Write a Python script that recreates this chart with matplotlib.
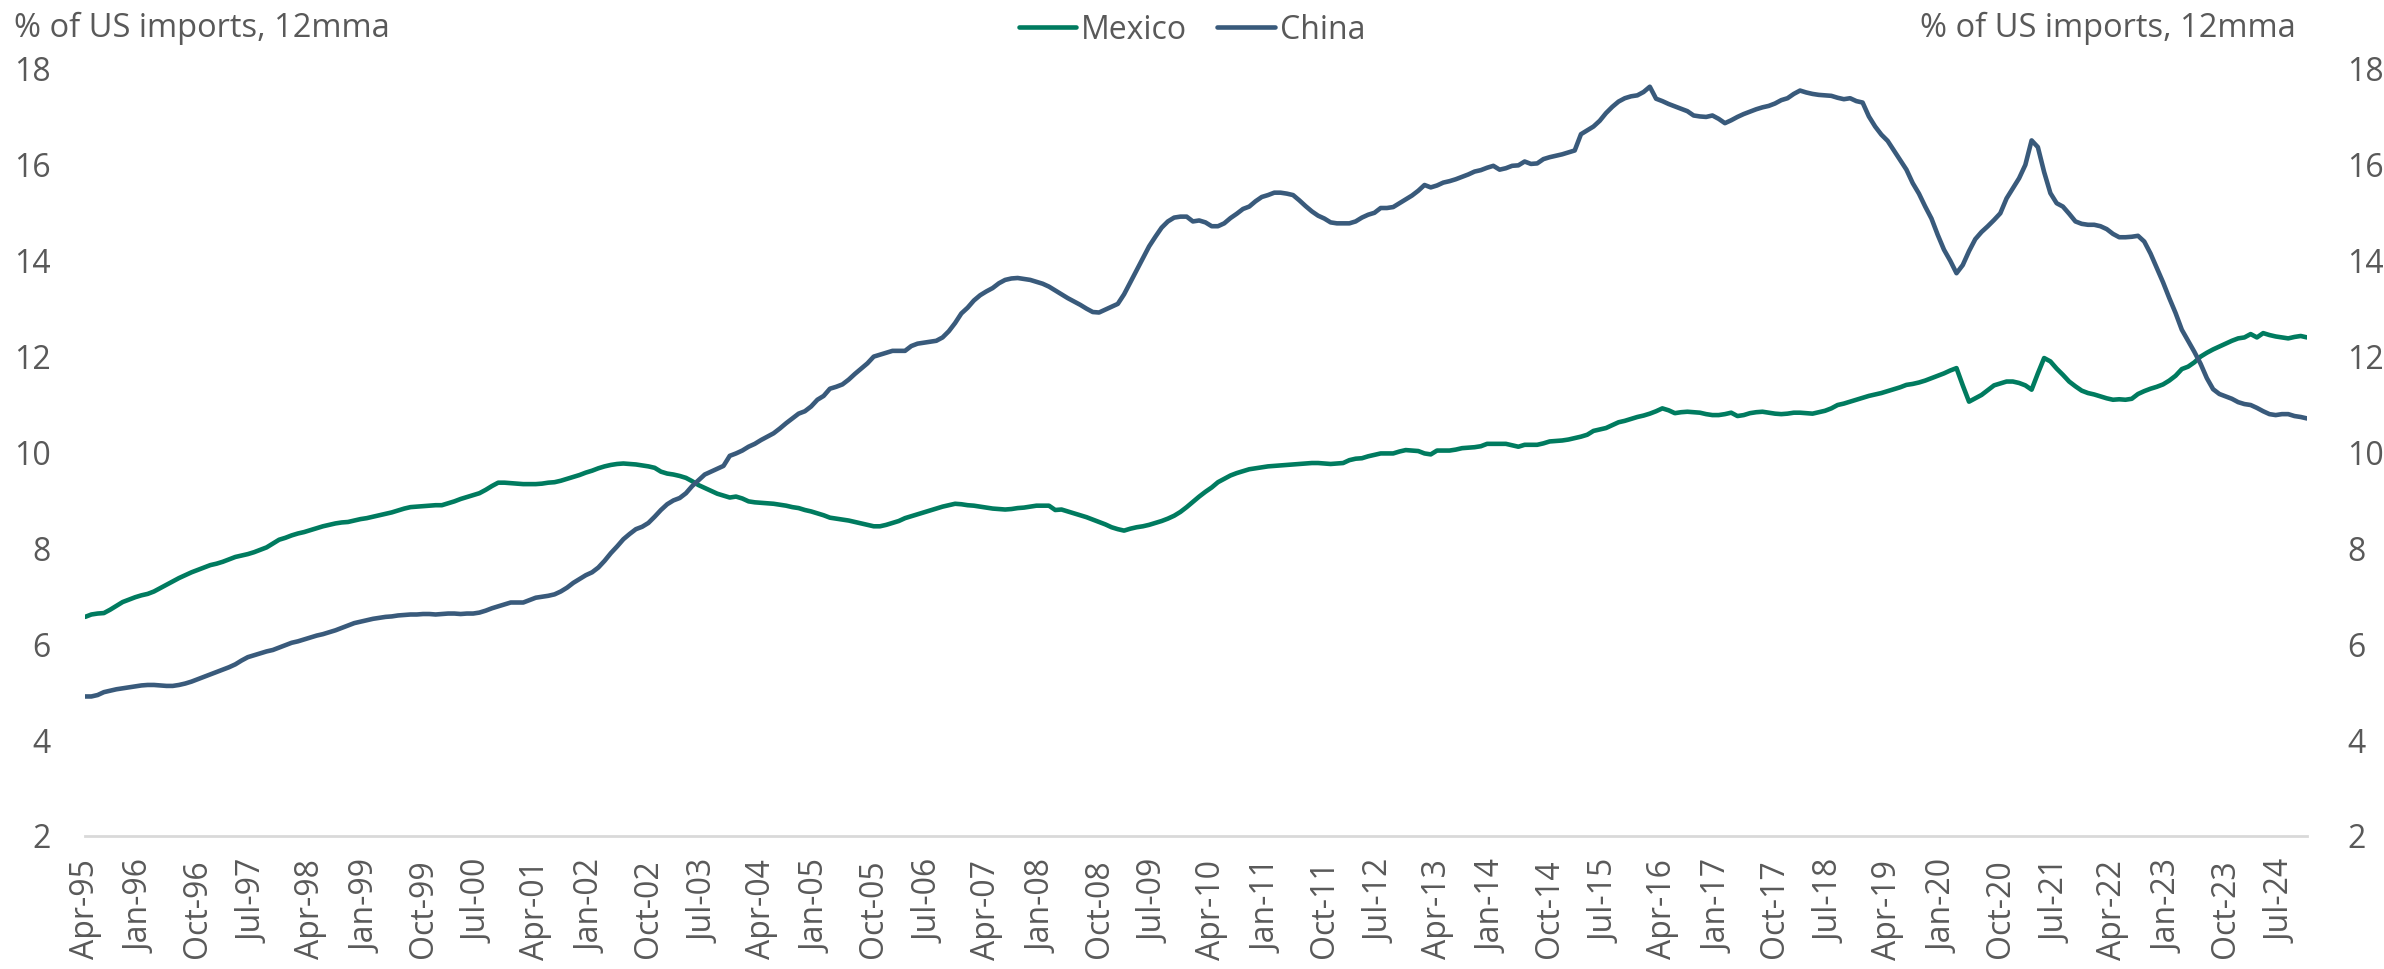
import numpy as np
import pandas as pd
import matplotlib
matplotlib.use("Agg")
import matplotlib.pyplot as plt

OUTPUT_FILE = "out.png"

START_MONTH = "1995-04"
AXIS_TITLE = "% of US imports, 12mma"

# monthly values, Apr-95 .. Nov-24
MEXICO = [
    6.57, 6.62, 6.64, 6.65, 6.72, 6.80, 6.88, 6.93, 6.98,
    7.02, 7.05, 7.10, 7.17, 7.24, 7.31, 7.38, 7.44, 7.50, 7.55, 7.60, 7.65,
    7.68, 7.72, 7.77, 7.82, 7.85, 7.88, 7.92, 7.97, 8.02, 8.10, 8.18, 8.22,
    8.27, 8.31, 8.34, 8.38, 8.42, 8.46, 8.49, 8.52, 8.54, 8.55, 8.58, 8.61,
    8.63, 8.66, 8.69, 8.72, 8.75, 8.79, 8.83, 8.86, 8.87, 8.88, 8.89, 8.90,
    8.90, 8.94, 8.98, 9.03, 9.07, 9.11, 9.15, 9.22, 9.30, 9.37, 9.37, 9.36,
    9.35, 9.34, 9.34, 9.34, 9.35, 9.37, 9.38, 9.41, 9.45, 9.49, 9.53, 9.58,
    9.62, 9.67, 9.71, 9.74, 9.76, 9.77, 9.76, 9.75, 9.73, 9.71, 9.68, 9.60,
    9.56, 9.54, 9.51, 9.47, 9.40, 9.32, 9.26, 9.20, 9.14, 9.10, 9.06, 9.08,
    9.04, 8.98, 8.96, 8.95, 8.94, 8.93, 8.91, 8.89, 8.86, 8.84, 8.80, 8.77,
    8.73, 8.69, 8.64, 8.62, 8.60, 8.58, 8.55, 8.52, 8.49, 8.46, 8.46, 8.49,
    8.53, 8.57, 8.63, 8.67, 8.71, 8.75, 8.79, 8.83, 8.87, 8.90, 8.93, 8.92,
    8.90, 8.89, 8.87, 8.85, 8.83, 8.82, 8.81, 8.82, 8.84, 8.85, 8.87, 8.89,
    8.89, 8.89, 8.80, 8.81, 8.77, 8.73, 8.69, 8.65, 8.60, 8.55, 8.50, 8.44,
    8.40, 8.37, 8.41, 8.44, 8.46, 8.49, 8.53, 8.57, 8.62, 8.68, 8.76, 8.86,
    8.97, 9.08, 9.18, 9.27, 9.38, 9.45, 9.52, 9.57, 9.61, 9.65, 9.67, 9.69,
    9.71, 9.72, 9.73, 9.74, 9.75, 9.76, 9.77, 9.78, 9.78, 9.77, 9.76, 9.77,
    9.78, 9.84, 9.87, 9.88, 9.92, 9.95, 9.98, 9.98, 9.98, 10.02, 10.05, 10.04,
    10.03, 9.98, 9.96, 10.04, 10.04, 10.04, 10.06, 10.09, 10.10, 10.11, 10.13, 10.18,
    10.18, 10.18, 10.18, 10.15, 10.12, 10.16, 10.16, 10.16, 10.19, 10.23, 10.24, 10.25,
    10.27, 10.30, 10.33, 10.37, 10.45, 10.48, 10.51, 10.57, 10.63, 10.66, 10.70, 10.74,
    10.77, 10.81, 10.86, 10.92, 10.88, 10.82, 10.84, 10.85, 10.84, 10.83, 10.80, 10.78,
    10.78, 10.80, 10.83, 10.76, 10.78, 10.82, 10.84, 10.85, 10.83, 10.81, 10.80, 10.81,
    10.83, 10.83, 10.82, 10.81, 10.84, 10.87, 10.92, 10.99, 11.02, 11.06, 11.10, 11.14,
    11.18, 11.21, 11.24, 11.28, 11.32, 11.36, 11.41, 11.43, 11.46, 11.50, 11.55, 11.60,
    11.65, 11.71, 11.76, 11.40, 11.06, 11.13, 11.20, 11.30, 11.40, 11.44, 11.48, 11.48,
    11.45, 11.40, 11.31, 11.65, 11.97, 11.90, 11.75, 11.62, 11.48, 11.38, 11.29, 11.24,
    11.21, 11.17, 11.13, 11.10, 11.11, 11.10, 11.12, 11.22, 11.28, 11.33, 11.37, 11.42,
    11.50, 11.60, 11.74, 11.79, 11.88, 12.00, 12.08, 12.15, 12.21, 12.27, 12.33, 12.38,
    12.40, 12.47, 12.40, 12.49, 12.45, 12.42, 12.40, 12.38, 12.41, 12.43, 12.40,
]

CHINA = [
    4.91, 4.91, 4.94, 5.00, 5.03, 5.06, 5.08, 5.10, 5.12,
    5.14, 5.15, 5.15, 5.14, 5.13, 5.13, 5.15, 5.18, 5.22, 5.27, 5.32, 5.37,
    5.42, 5.47, 5.52, 5.58, 5.66, 5.73, 5.77, 5.81, 5.85, 5.88, 5.93, 5.98,
    6.03, 6.06, 6.10, 6.14, 6.18, 6.21, 6.25, 6.29, 6.34, 6.39, 6.44, 6.47,
    6.50, 6.53, 6.55, 6.57, 6.58, 6.60, 6.61, 6.62, 6.62, 6.63, 6.63, 6.62,
    6.63, 6.64, 6.64, 6.63, 6.64, 6.64, 6.66, 6.70, 6.75, 6.79, 6.83, 6.87,
    6.87, 6.87, 6.92, 6.97, 6.99, 7.01, 7.04, 7.10, 7.18, 7.28, 7.36, 7.44,
    7.50, 7.60, 7.74, 7.90, 8.04, 8.19, 8.30, 8.40, 8.45, 8.53, 8.66, 8.80,
    8.92, 9.00, 9.05, 9.15, 9.30, 9.42, 9.54, 9.60, 9.66, 9.72, 9.93, 9.98,
    10.04, 10.12, 10.18, 10.26, 10.33, 10.40, 10.50, 10.61, 10.71, 10.81, 10.86, 10.96,
    11.10, 11.18, 11.33, 11.37, 11.42, 11.52, 11.64, 11.75, 11.86, 12.00, 12.04, 12.08,
    12.12, 12.12, 12.12, 12.22, 12.27, 12.29, 12.31, 12.33, 12.40, 12.53, 12.70, 12.90,
    13.02, 13.17, 13.28, 13.36, 13.43, 13.53, 13.60, 13.63, 13.64, 13.62, 13.60, 13.56,
    13.52, 13.46, 13.38, 13.30, 13.22, 13.15, 13.08, 13.00, 12.93, 12.92, 12.98, 13.04,
    13.10, 13.30, 13.55, 13.80, 14.05, 14.30, 14.50, 14.69, 14.82, 14.90, 14.92, 14.92,
    14.82, 14.84, 14.80, 14.72, 14.72, 14.78, 14.89, 14.98, 15.08, 15.13, 15.24, 15.33,
    15.37, 15.42, 15.42, 15.40, 15.37, 15.26, 15.14, 15.03, 14.94, 14.88, 14.80, 14.78,
    14.78, 14.78, 14.82, 14.90, 14.96, 15.00, 15.10, 15.10, 15.12, 15.20, 15.28, 15.36,
    15.46, 15.58, 15.53, 15.57, 15.63, 15.66, 15.70, 15.75, 15.80, 15.86, 15.89, 15.94,
    15.98, 15.90, 15.93, 15.98, 15.99, 16.07, 16.02, 16.03, 16.12, 16.16, 16.19, 16.22,
    16.26, 16.30, 16.64, 16.72, 16.80, 16.92, 17.08, 17.21, 17.32, 17.39, 17.43, 17.45,
    17.52, 17.63, 17.38, 17.33, 17.27, 17.22, 17.17, 17.12, 17.03, 17.01, 17.00, 17.03,
    16.96, 16.87, 16.93, 17.00, 17.06, 17.11, 17.16, 17.20, 17.23, 17.28, 17.35, 17.39,
    17.48, 17.55, 17.51, 17.48, 17.46, 17.45, 17.44, 17.40, 17.37, 17.39, 17.33, 17.30,
    17.01, 16.80, 16.63, 16.50, 16.30, 16.10, 15.90, 15.62, 15.40, 15.13, 14.88, 14.54,
    14.23, 14.00, 13.74, 13.91, 14.20, 14.45, 14.60, 14.72, 14.85, 14.99, 15.30, 15.51,
    15.72, 16.00, 16.51, 16.37, 15.85, 15.41, 15.20, 15.13, 14.98, 14.82, 14.77, 14.75,
    14.75, 14.72, 14.66, 14.56, 14.49, 14.49, 14.50, 14.52, 14.40, 14.15, 13.85, 13.55,
    13.22, 12.91, 12.56, 12.33, 12.10, 11.85, 11.55, 11.32, 11.22, 11.17, 11.12, 11.05,
    11.01, 10.99, 10.93, 10.86, 10.80, 10.78, 10.80, 10.80, 10.76, 10.74, 10.71,
]

Y_TICKS = [2, 4, 6, 8, 10, 12, 14, 16, 18]
LABEL_STEP = 9

MEXICO_COLOR = "#007b5f"
CHINA_COLOR = "#395a7b"
TEXT_COLOR = "#595959"
AXIS_COLOR = "#d9d9d9"

FONT = ["Open Sans", "DejaVu Sans"]
TICK_SIZE = 23
TITLE_SIZE = 23.5
LEGEND_SIZE = 23

plt.rcParams["font.family"] = FONT

months = pd.period_range(START_MONTH, periods=len(MEXICO), freq="M")
x = np.arange(len(months))
tick_pos = x[::LABEL_STEP]
tick_labels = [m.strftime("%b-%y") for m in months[::LABEL_STEP]]

fig = plt.figure(figsize=(23.84, 9.69), dpi=100, facecolor="white")
ax = fig.add_axes([0.0357, 0.1373, 0.9320, 0.7915])

ax.plot(x, MEXICO, color=MEXICO_COLOR, linewidth=3.3, label="Mexico",
        solid_capstyle="round", solid_joinstyle="round")
ax.plot(x, CHINA, color=CHINA_COLOR, linewidth=3.3, label="China",
        solid_capstyle="round", solid_joinstyle="round")

ax.set_xlim(x[0], x[-1])
ax.set_ylim(2, 18)
ax.set_yticks(Y_TICKS)
ax.set_xticks(tick_pos)
ax.set_xticklabels(tick_labels, rotation=90, fontsize=TICK_SIZE, color=TEXT_COLOR)

ax.tick_params(axis="y", length=0, pad=25, labelsize=TICK_SIZE, labelcolor=TEXT_COLOR)
ax.tick_params(axis="x", length=0, pad=17)

for side in ["top", "right", "left"]:
    ax.spines[side].set_visible(False)
ax.spines["bottom"].set_color(AXIS_COLOR)
ax.spines["bottom"].set_linewidth(2)

ax2 = ax.twinx()
ax2.set_ylim(2, 18)
ax2.set_yticks(Y_TICKS)
ax2.tick_params(axis="y", length=0, pad=29, labelsize=TICK_SIZE, labelcolor=TEXT_COLOR)
for spine in ax2.spines.values():
    spine.set_visible(False)

fig.text(0.006, 0.971, AXIS_TITLE, ha="left", va="center",
         fontsize=TITLE_SIZE, color=TEXT_COLOR)
fig.text(0.963, 0.971, AXIS_TITLE, ha="right", va="center",
         fontsize=TITLE_SIZE, color=TEXT_COLOR)

fig.legend(
    loc="center",
    bbox_to_anchor=(0.5, 0.969),
    ncol=2,
    frameon=False,
    fontsize=LEGEND_SIZE,
    labelcolor=TEXT_COLOR,
    handlelength=1.8,
    handletextpad=0.15,
    columnspacing=0.95,
    borderaxespad=0,
)

fig.savefig(OUTPUT_FILE, dpi=100, facecolor="white")
